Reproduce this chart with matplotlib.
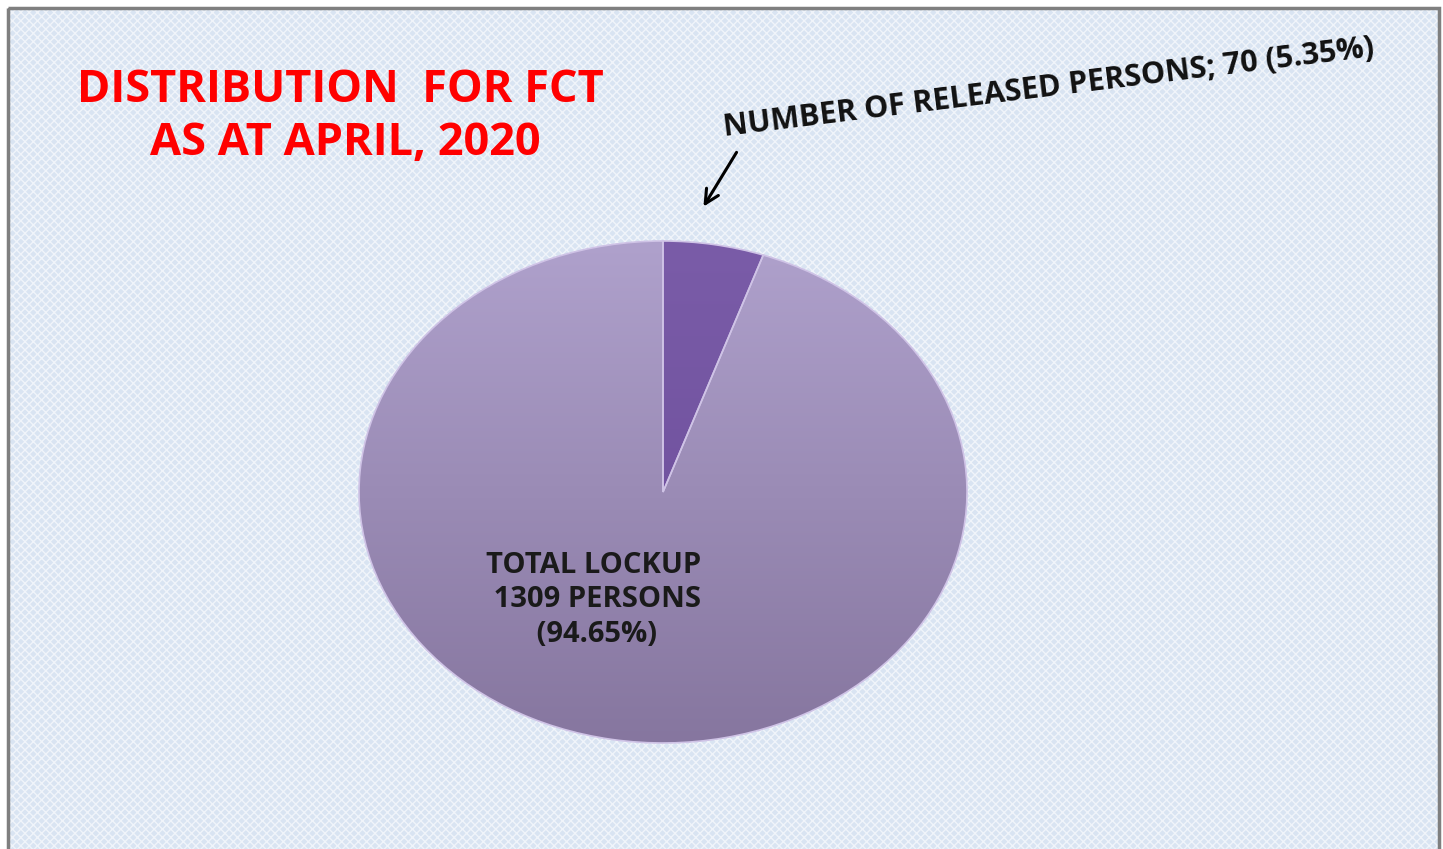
import matplotlib
matplotlib.use("Agg")
import matplotlib.pyplot as plt
import numpy as np
from matplotlib.patches import Rectangle
from matplotlib.colors import LinearSegmentedColormap

# chart data
labels = ["NUMBER OF RELEASED PERSONS", "TOTAL LOCKUP"]
counts = [70, 1309]
shares = [5.35, 94.65]

W, H = 1443, 849

fig = plt.figure(figsize=(W / 100, H / 100), dpi=100)
fig.patch.set_facecolor("white")

# background panel with the light blue texture
bg = fig.add_axes([0, 0, 1, 1])
bg.set_xlim(0, W)
bg.set_ylim(H, 0)
bg.axis("off")
bg.add_patch(Rectangle((8, 8), 1431, 860, facecolor="#d9e4f2",
                       edgecolor="none", zorder=1))
bg.add_patch(Rectangle((8, 8), 1431, 860, facecolor="none", hatch="xxxx",
                       edgecolor="#f0f4fa", linewidth=0, zorder=2))
bg.add_patch(Rectangle((8, 8), 1431, 860, facecolor="none",
                       edgecolor="#7f7f7f", linewidth=2.5, zorder=3))

# title
bg.text(340, 90, "DISTRIBUTION  FOR FCT", color="#ff0000", fontsize=32.5,
        fontweight="bold", family="Open Sans", ha="center", va="center", zorder=5)
bg.text(345, 143, "AS AT APRIL, 2020", color="#ff0000", fontsize=32.5,
        fontweight="bold", family="Open Sans", ha="center", va="center", zorder=5)

# pie, drawn as an ellipse
ax = fig.add_axes([359 / W, (H - 743) / H, 608 / W, 502 / H])
ax.set_zorder(4)
wedges, _ = ax.pie(shares, startangle=90, counterclock=False,
                   colors=["#7456a2", "#a696c3"], radius=1,
                   wedgeprops=dict(edgecolor="#cfc3e6", linewidth=1.2))
ax.set_aspect("auto")
ax.set_xlim(-1, 1)
ax.set_ylim(-1, 1)
ax.axis("off")

# vertical gradients clipped to each wedge
grad = np.linspace(0, 1, 256).reshape(-1, 1)
cmaps = [LinearSegmentedColormap.from_list("s", ["#6a4b98", "#7a5ca8"]),
         LinearSegmentedColormap.from_list("b", ["#86769f", "#afa1cc"])]
for w, cm in zip(wedges, cmaps):
    im = ax.imshow(grad, extent=(-1, 1, -1, 1), cmap=cm, aspect="auto",
                   origin="lower", zorder=w.get_zorder() + 0.1)
    im.set_clip_path(w)
    w.set_zorder(w.get_zorder() + 0.2)
    w.set_facecolor("none")

# inner label, on top of the pie
ax.text(-0.23, -0.43, "TOTAL LOCKUP\n 1309 PERSONS\n (94.65%)", color="#1a1a1a",
        fontsize=21, fontweight="bold", family="Open Sans", ha="center",
        va="center", linespacing=1.25, zorder=10)

# outside label with arrow
bg.text(1049, 88, "NUMBER OF RELEASED PERSONS; 70 (5.35%)", color="#111111",
        fontsize=22, fontweight="bold", family="Open Sans", ha="center",
        va="center", rotation=7, rotation_mode="anchor", zorder=6)
bg.annotate("", xy=(702, 209), xytext=(738, 150),
            arrowprops=dict(arrowstyle="->", color="black", lw=2.2,
                            mutation_scale=25), zorder=6)

fig.savefig("out.png", dpi=100)
